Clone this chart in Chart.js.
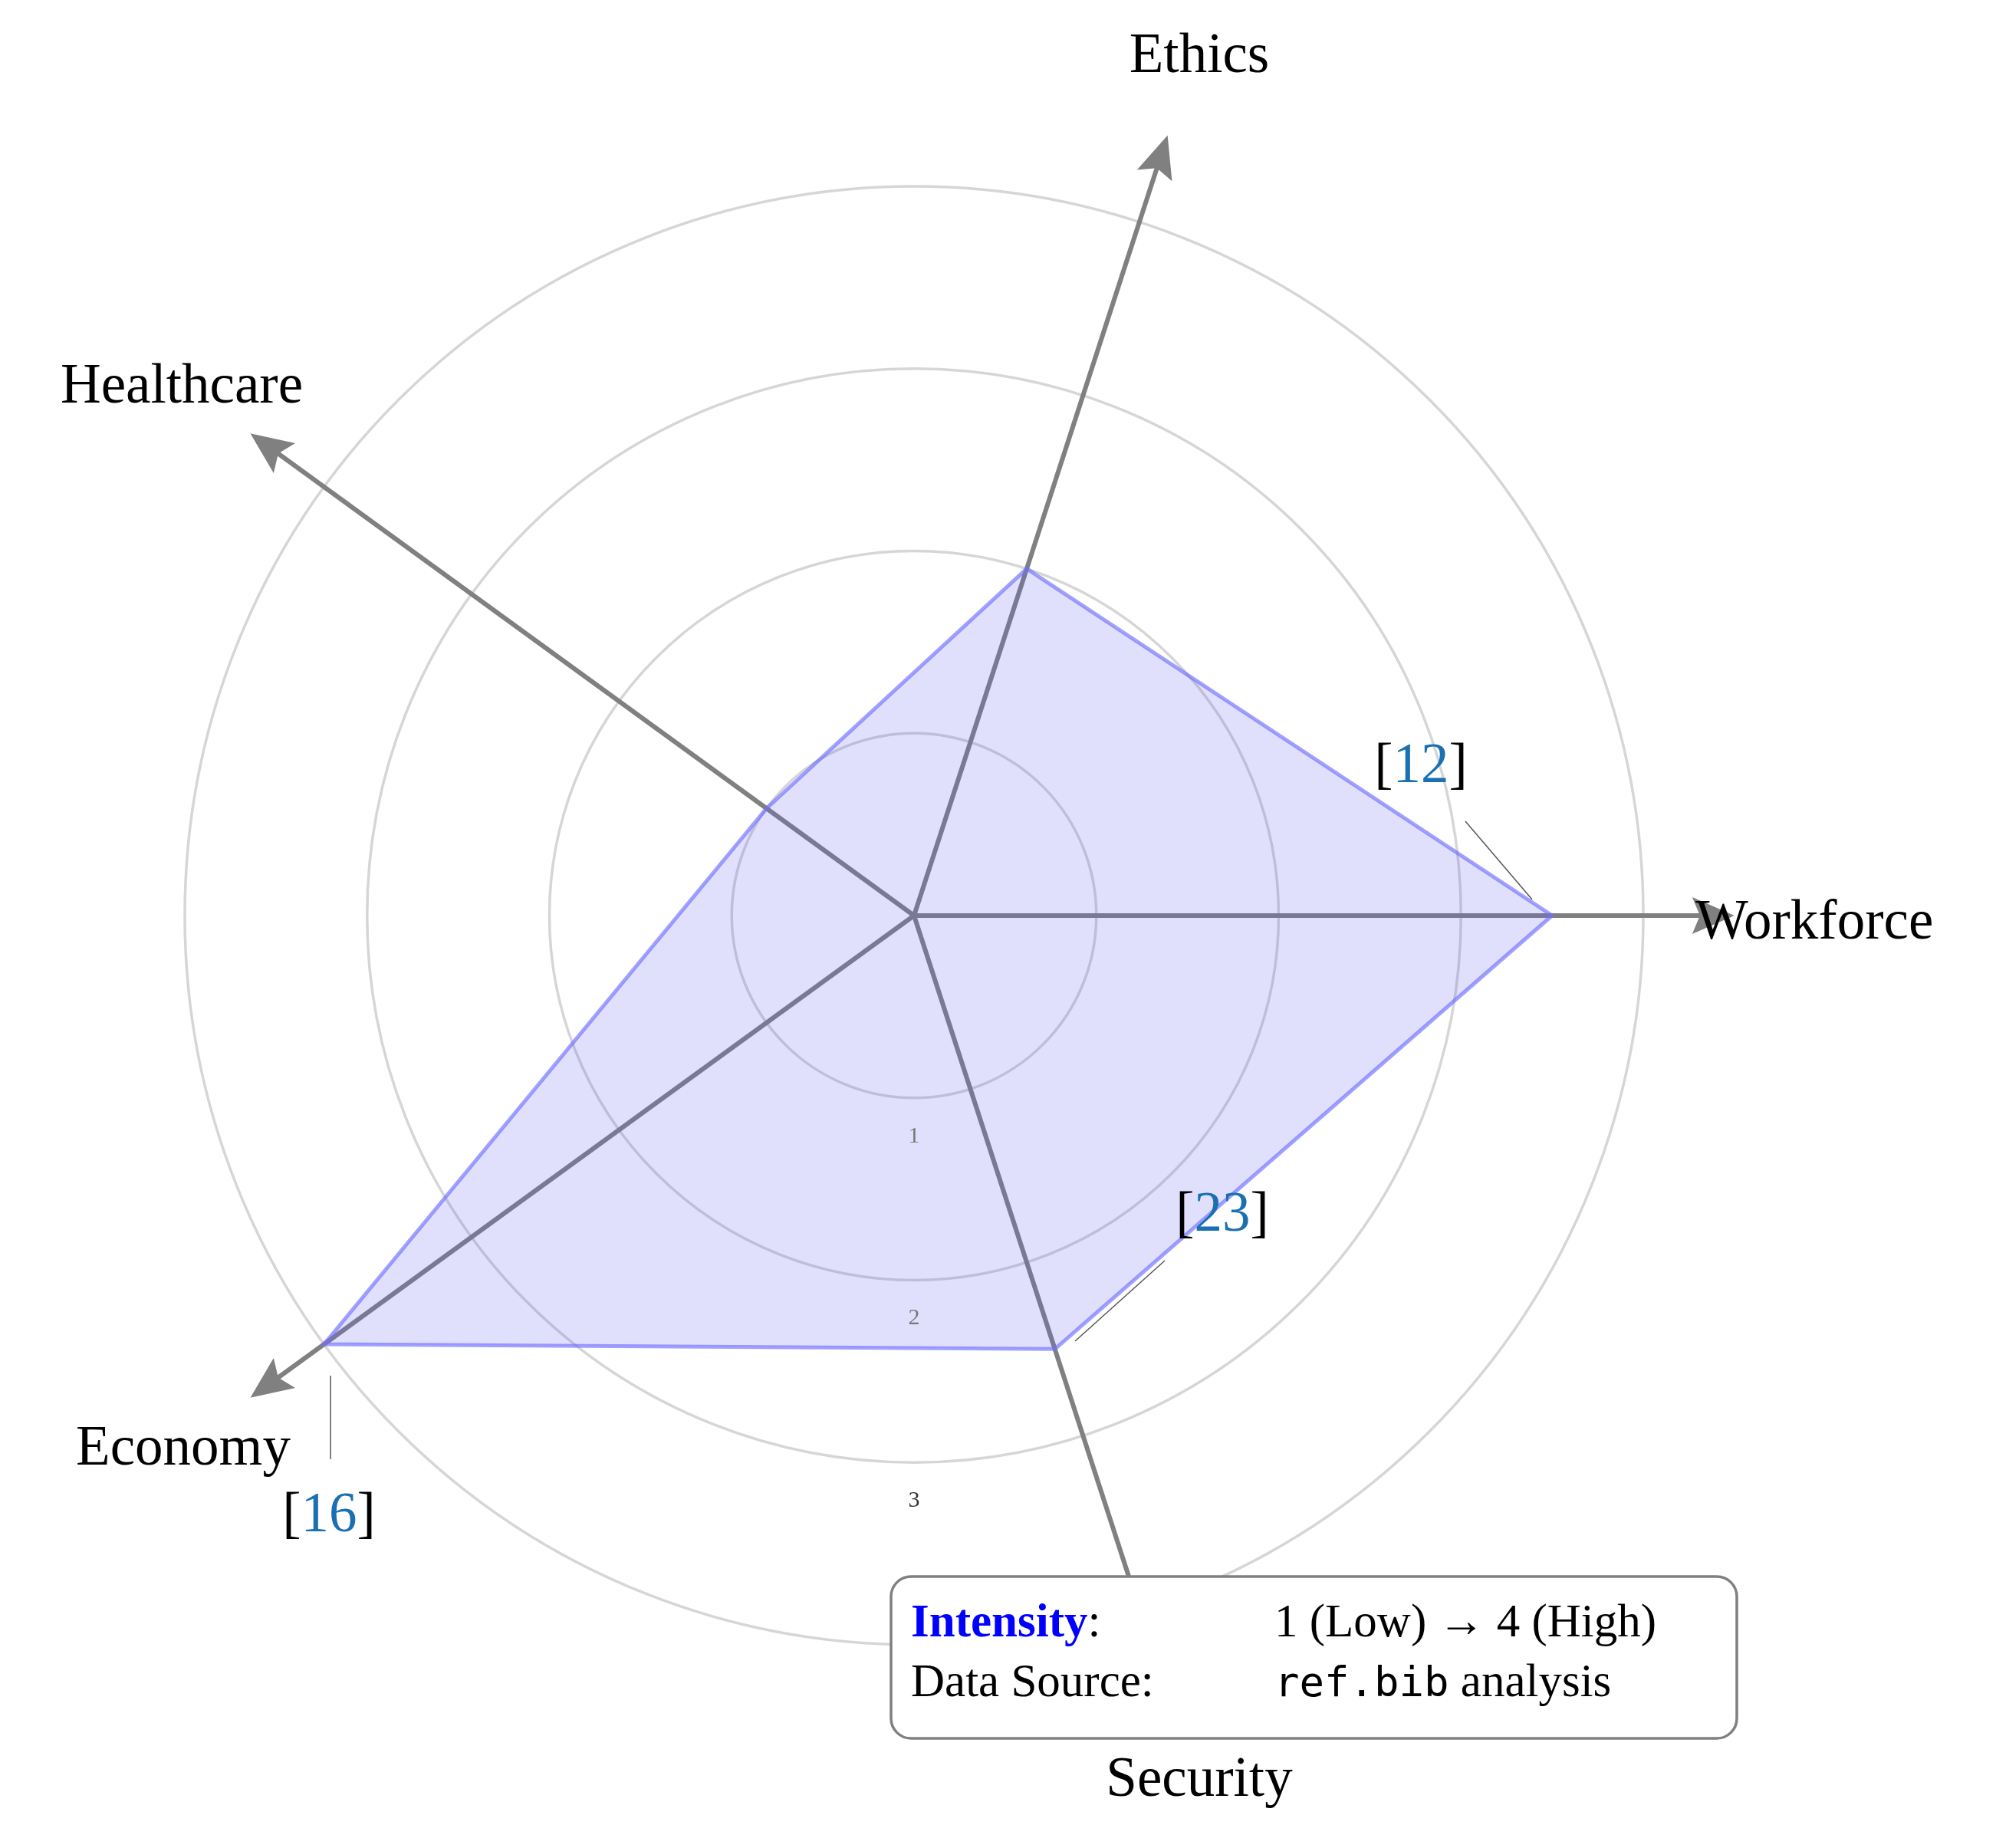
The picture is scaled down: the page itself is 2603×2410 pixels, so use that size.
<!DOCTYPE html>
<html>
<head>
<meta charset="utf-8">
<script src="https://cdn.jsdelivr.net/npm/chart.js@4"></script>
<style>body{margin:0;background:#fff}</style>
</head>
<body>
<canvas id="c" width="2603" height="2410"></canvas>
<script>
const categories = ['Workforce', 'Security', 'Economy', 'Healthcare', 'Ethics'];
const intensity = [3.5, 2.5, 4, 1, 2];
const tickLabels = ['1', '2', '3'];
const refs = [
  { text: '12', at: [1853, 1001], line: [1911, 1071, 1998, 1173] },
  { text: '23', at: [1594, 1586], line: [1519, 1644, 1402, 1749] },
  { text: '16', at: [429, 1978], line: [431, 1794, 431, 1903] }
];
const labelPos = {
  Workforce: [2211, 1205, 'left'],
  Security: [1564, 2323, 'center'],
  Economy: [239, 1891, 'center'],
  Healthcare: [237, 506, 'center'],
  Ethics: [1564, 75, 'center']
};
const SERIF = '"Liberation Serif", "DejaVu Serif", serif';

const axesPlugin = {
  id: 'axes',
  beforeDatasetsDraw(chart) {
    const s = chart.scales.r, ctx = chart.ctx;
    ctx.save();
    ctx.strokeStyle = '#808080';
    ctx.fillStyle = '#808080';
    ctx.lineWidth = 6;
    categories.forEach((c, i) => {
      const tip = s.getPointPosition(i, s.getDistanceFromCenterForValue(4.5));
      const a = Math.atan2(tip.y - s.yCenter, tip.x - s.xCenter);
      ctx.beginPath();
      ctx.moveTo(s.xCenter, s.yCenter);
      ctx.lineTo(tip.x - 30 * Math.cos(a), tip.y - 30 * Math.sin(a));
      ctx.stroke();
      ctx.beginPath();
      ctx.moveTo(tip.x, tip.y);
      ctx.lineTo(tip.x - 55 * Math.cos(a) + 24 * Math.sin(a), tip.y - 55 * Math.sin(a) - 24 * Math.cos(a));
      ctx.lineTo(tip.x - 45 * Math.cos(a), tip.y - 45 * Math.sin(a));
      ctx.lineTo(tip.x - 55 * Math.cos(a) - 24 * Math.sin(a), tip.y - 55 * Math.sin(a) + 24 * Math.cos(a));
      ctx.closePath();
      ctx.fill();
    });
    ctx.restore();
  },
  afterDraw(chart) {
    const s = chart.scales.r, ctx = chart.ctx;
    ctx.save();
    ctx.textAlign = 'center';
    ctx.textBaseline = 'middle';
    ctx.font = '30px ' + SERIF;
    tickLabels.forEach((t, i) => {
      ctx.fillStyle = i === 2 ? '#333' : '#777';
      ctx.fillText(t, s.xCenter, s.yCenter + s.getDistanceFromCenterForValue(i + 1) + 50);
    });
    ctx.fillStyle = '#000';
    ctx.font = '73px ' + SERIF;
    categories.forEach(c => {
      const p = labelPos[c];
      ctx.textAlign = p[2];
      ctx.fillText(c, p[0], p[1]);
    });
    refs.forEach(r => {
      ctx.strokeStyle = '#555';
      ctx.lineWidth = 1.5;
      ctx.beginPath();
      ctx.moveTo(r.line[0], r.line[1]);
      ctx.lineTo(r.line[2], r.line[3]);
      ctx.stroke();
      ctx.font = '73px ' + SERIF;
      const parts = [['[', '#000'], [r.text, '#1a70b0'], [']', '#000']];
      const w = parts.reduce((a, p) => a + ctx.measureText(p[0]).width, 0);
      let x = r.at[0] - w / 2;
      ctx.textAlign = 'left';
      parts.forEach(p => {
        ctx.fillStyle = p[1];
        ctx.fillText(p[0], x, r.at[1]);
        x += ctx.measureText(p[0]).width;
      });
    });
    ctx.beginPath();
    ctx.roundRect(1162, 2056, 1103, 211, 26);
    ctx.fillStyle = '#fff';
    ctx.fill();
    ctx.strokeStyle = '#808080';
    ctx.lineWidth = 3.5;
    ctx.stroke();
    ctx.textAlign = 'left';
    ctx.font = 'bold 61px ' + SERIF;
    ctx.fillStyle = '#0000ff';
    ctx.fillText('Intensity', 1188, 2118);
    let x = 1188 + ctx.measureText('Intensity').width;
    ctx.font = '61px ' + SERIF;
    ctx.fillStyle = '#000';
    ctx.fillText(':', x, 2118);
    ctx.fillText('1 (Low) \u2192 4 (High)', 1662, 2118);
    ctx.fillText('Data Source:', 1188, 2196);
    ctx.font = '54px "DejaVu Sans Mono", monospace';
    ctx.fillText('ref.bib', 1662, 2198);
    x = 1662 + ctx.measureText('ref.bib').width;
    ctx.font = '61px ' + SERIF;
    ctx.fillText(' analysis', x, 2196);
    ctx.restore();
  }
};

new Chart(document.getElementById('c'), {
  type: 'radar',
  data: {
    labels: categories,
    datasets: [{
      data: intensity,
      backgroundColor: 'rgba(90, 90, 245, 0.19)',
      borderColor: 'rgba(110, 110, 255, 0.65)',
      borderWidth: 5,
      pointRadius: 0,
      fill: true
    }]
  },
  options: {
    responsive: false,
    devicePixelRatio: 1,
    animation: false,
    layout: { padding: { left: 241, right: 460, top: 243, bottom: 265 } },
    plugins: { legend: { display: false }, tooltip: { enabled: false } },
    elements: { line: { tension: 0 } },
    scales: {
      r: {
        min: 0, max: 4, startAngle: 90,
        ticks: { stepSize: 1, display: false },
        grid: { circular: true, color: '#d6d6d6', lineWidth: 3.5 },
        angleLines: { display: false },
        pointLabels: { display: false }
      }
    }
  },
  plugins: [axesPlugin]
});
</script>
</body>
</html>
